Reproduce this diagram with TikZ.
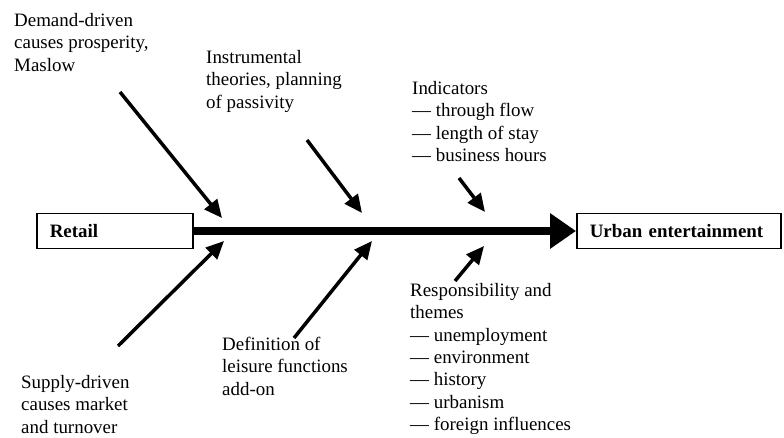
\documentclass[tikz,border=0pt]{standalone}
\usepackage{fontspec}
\setmainfont{Liberation Serif}
\usetikzlibrary{arrows.meta}

\begin{document}
\begin{tikzpicture}[
  x=1bp, y=-1bp,
  endbox/.style={draw, line width=1.5bp, minimum height=35bp, inner xsep=13bp,
                 anchor=west, align=left, font=\fontsize{19}{22.5}\selectfont\bfseries},
  causetext/.style={anchor=north west, inner sep=0pt, align=left,
                    font=\fontsize{19}{22.5}\selectfont},
  spine/.style={-{Triangle[length=26bp, width=34bp]}, line width=8bp},
  causearrow/.style={-{Triangle[length=18bp, width=16bp]}, line width=3.5bp}
]
\useasboundingbox (0,0) rectangle (784,438);

\def\ys{231}

\node[endbox, text width=130bp] (retail) at (36,\ys) {Retail};
\node[endbox, text width=178bp, inner xsep=13bp] (urban) at (576,\ys) {Urban entertainment};
\draw[spine] (retail.east) -- (urban.west);

% causes above the spine
\node[causetext] (demand) at (14,13) {Demand-driven\\causes prosperity,\\Maslow};
\node[causetext] (instr) at (206,50) {Instrumental\\theories, planning\\of passivity};
\node[causetext] (indic) at (412,81)
  {Indicators\\--- through flow\\--- length of stay\\--- business hours};

% causes below the spine
\node[causetext] (supply) at (21,375) {Supply-driven\\causes market\\and turnover};
\node[causetext] (defin) at (222,337) {Definition of\\leisure functions\\add-on};
\node[causetext] (resp) at (410,283)
  {Responsibility and\\themes\\--- unemployment\\--- environment\\--- history\\--- urbanism\\--- foreign influences};

\coordinate (t1) at (120,92);  \coordinate (h1) at (222,218);
\coordinate (t2) at (307,140); \coordinate (h2) at (362,213);
\coordinate (t3) at (459,178); \coordinate (h3) at (485,212);
\coordinate (t4) at (118,346); \coordinate (h4) at (224,241);
\coordinate (t5) at (294,338); \coordinate (h5) at (372,241);
\coordinate (t6) at (455,281); \coordinate (h6) at (484,246);
\foreach \i in {1,...,6} { \draw[causearrow] (t\i) -- (h\i); }

\end{tikzpicture}
\end{document}
